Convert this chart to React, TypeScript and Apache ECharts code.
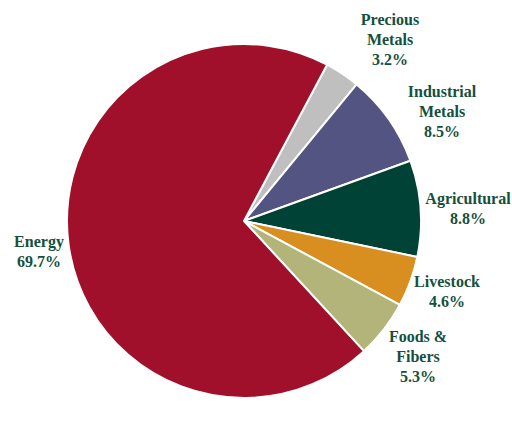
import React, { useEffect, useRef } from "react";
import * as echarts from "echarts";

const categories = ["Precious Metals", "Industrial Metals", "Agricultural", "Livestock", "Foods & Fibers", "Energy"];
const values = [3.2, 8.5, 8.8, 4.6, 5.3, 69.7];
const colors = ["#BFBFBF", "#545483", "#004236", "#D98E20", "#B3B47A", "#A0102A"];
const labelPositions: [number, number][] = [
  [390, 39],
  [442, 111],
  [468, 208],
  [447, 291],
  [418, 356],
  [39, 251],
];

const FONT = "Liberation Serif";

export default function App() {
  const ref = useRef<HTMLDivElement>(null);
  useEffect(() => {
    document.body.style.margin = "0";
    if (!ref.current) return;
    const chart = echarts.init(ref.current, undefined, { renderer: "svg" });
    chart.setOption({
      animation: false,
      backgroundColor: "#ffffff",
      textStyle: { fontFamily: FONT },
      series: [
        {
          type: "pie",
          center: [244, 221],
          radius: 177,
          startAngle: 62,
          clockwise: true,
          avoidLabelOverlap: false,
          data: categories.map((name, i) => ({
            name,
            value: values[i],
            itemStyle: { color: colors[i] },
          })),
          itemStyle: { borderColor: "#ffffff", borderWidth: 2 },
          label: {
            show: true,
            position: "outside",
            formatter: (p: any) => {
              const n = p.name as string;
              const idx = n.lastIndexOf(" ");
              const lines = idx > 0 ? [n.slice(0, idx), n.slice(idx + 1)] : [n];
              lines.push(p.value.toFixed(1) + "%");
              return lines.map((l) => "{t|" + l + "}").join("\n");
            },
            rich: {
              t: {
                fontFamily: FONT,
                fontWeight: "bold",
                fontSize: 16,
                lineHeight: 20,
                color: "#14503D",
                align: "center",
              },
            },
            color: "#14503D",
            fontFamily: FONT,
            fontWeight: "bold",
            fontSize: 16,
            lineHeight: 20,
            align: "center",
          },
          labelLine: { show: false },
          labelLayout: (params: any) => {
            const pos = labelPositions[params.dataIndex];
            return { x: pos[0], y: pos[1], align: "center", verticalAlign: "middle" };
          },
          emphasis: { disabled: true },
        },
      ],
    });
    return () => chart.dispose();
  }, []);
  return <div ref={ref} style={{ width: 512, height: 431 }} />;
}
